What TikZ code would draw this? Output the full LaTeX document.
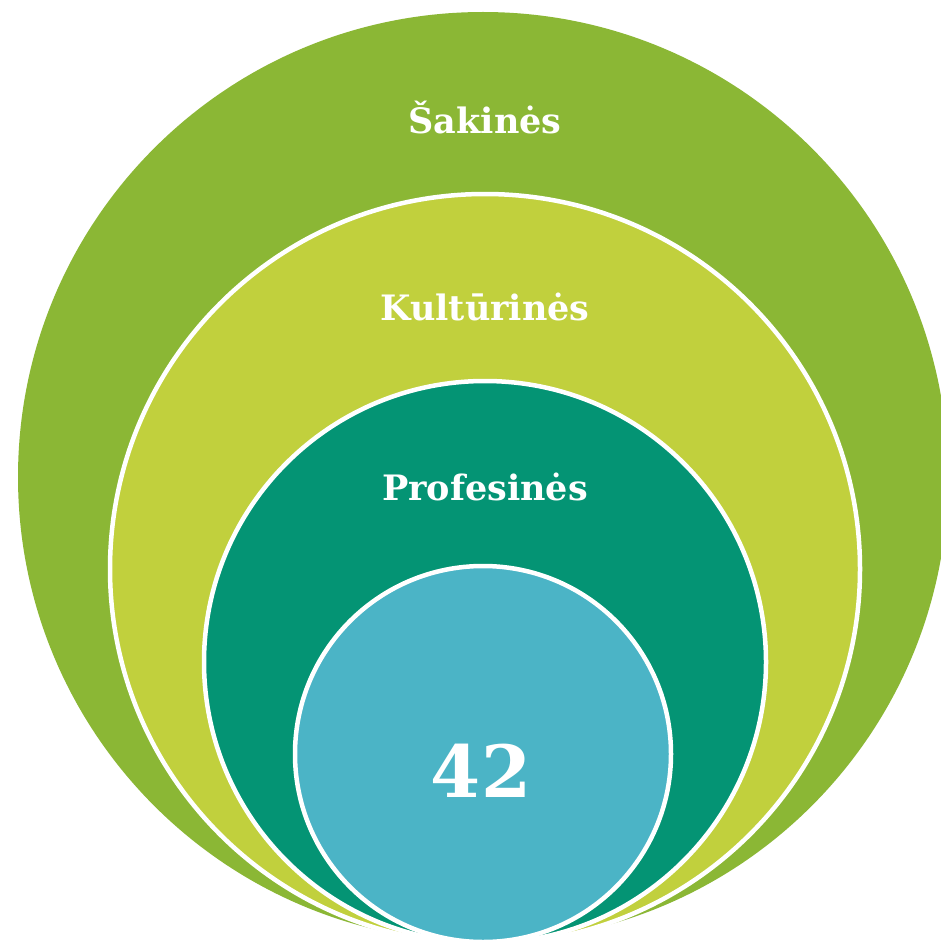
\documentclass[tikz,border=0pt]{standalone}
\usepackage{fontspec}
\setmainfont{DejaVu Serif}
\usetikzlibrary{positioning}

\definecolor{ringA}{HTML}{8BB735}
\definecolor{ringB}{HTML}{C1D03D}
\definecolor{ringC}{HTML}{049474}
\definecolor{ringD}{HTML}{4BB4C6}

\begin{document}
\begin{tikzpicture}[x=1pt, y=-1pt,
  ring/.style={circle, draw=white, line width=4.5pt, inner sep=0pt, outer sep=0pt},
  ringtext/.style={text=white, anchor=base, font=\fontsize{35}{42}\selectfont\bfseries},
  bigtext/.style={text=white, anchor=base, font=\fontsize{72}{80}\selectfont\bfseries}
]
\useasboundingbox[fill=white] (0,0) rectangle (941,939);
% Apskritimai (nuo didziausio iki maziausio)
\node[ring, fill=ringA, draw=none, minimum size=930pt] (sak) at (483,477) {};
\node[ring, fill=ringB, minimum size=750pt] (kult) at (485,569) {};
\node[ring, fill=ringC, minimum size=562pt] (prof) at (485,662) {};
\node[ring, fill=ringD, minimum size=376pt] (core) at (483,754) {};
% Uzrasai
\node[ringtext] (tsak) at (485,133) {Šakinės};
\node[ringtext] (tkult) at (485,320) {Kultūrinės};
\node[ringtext] (tprof) at (485,500) {Profesinės};
\node[bigtext] (tcore) at (481,797) {42};
\end{tikzpicture}
\end{document}
